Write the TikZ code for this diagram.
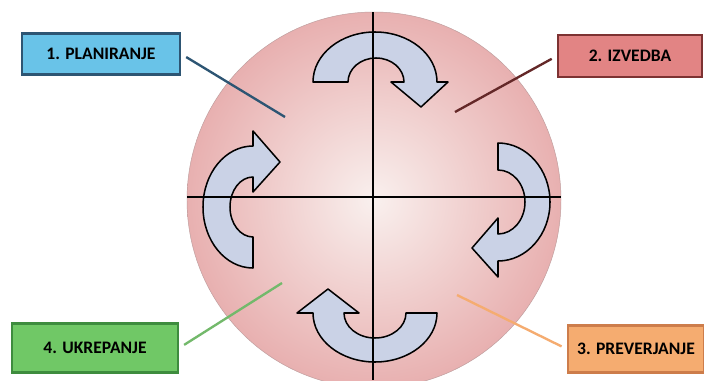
\documentclass[tikz,border=0pt]{standalone}
\usepackage{fontspec}
\setmainfont{Carlito}
\definecolor{discin}{RGB}{249,240,238}
\definecolor{discout}{RGB}{232,176,176}
\definecolor{arrowfill}{RGB}{202,210,230}
\definecolor{planfill}{RGB}{105,195,232}
\definecolor{plandraw}{RGB}{45,85,115}
\definecolor{izvfill}{RGB}{226,132,132}
\definecolor{izvdraw}{RGB}{125,50,50}
\definecolor{prevfill}{RGB}{245,172,112}
\definecolor{prevdraw}{RGB}{205,125,75}
\definecolor{ukrfill}{RGB}{112,200,102}
\definecolor{ukrdraw}{RGB}{62,140,62}
\begin{document}
\begin{tikzpicture}[x=0.03cm, y=0.03cm,
    phase/.style={draw, line width=2pt, inner sep=0pt, font=\fontsize{15}{18}\selectfont\bfseries},
    turn/.style={draw=black, line width=1.3pt, fill=arrowfill, line join=round},
    link/.style={line width=2pt, shorten <=5pt}
  ]
  \useasboundingbox (0,0) rectangle (704,380);
  \fill[white] (0,0) rectangle (704,380);
  \shade[inner color=discin, outer color=discout] (374,180) ellipse [x radius=187, y radius=188];
  \draw[discout!60!gray, line width=0.4pt] (374,180) ellipse [x radius=187, y radius=188];

  \draw[turn] (313,298) arc[start angle=180, end angle=0, x radius=62, y radius=50]
    -- (448,298) -- (421,273) -- (391,298) -- (404,298)
    arc[start angle=0, end angle=180, x radius=28, y radius=24] -- cycle;
  \draw[turn] (498,237) arc[start angle=90, end angle=-90, x radius=52, y radius=59]
    -- (498,103) -- (472,132) -- (498,162) -- (498,146)
    arc[start angle=-90, end angle=90, x radius=27, y radius=32] -- cycle;
  \draw[turn] (437,67) arc[start angle=0, end angle=-180, x radius=62, y radius=49]
    -- (297,67) -- (328,91) -- (359,67) -- (344,67)
    arc[start angle=180, end angle=360, x radius=31, y radius=25] -- cycle;
  \draw[turn] (253,112) arc[start angle=-90, end angle=-270, x radius=50, y radius=61]
    -- (253,249) -- (280,218) -- (253,188) -- (253,203)
    arc[start angle=90, end angle=270, x radius=23, y radius=30] -- cycle;

  \draw[line width=1.4pt] (373,368) -- (373,0);
  \draw[line width=1.4pt] (187,183) -- (561,183);

  \node[phase, fill=planfill, draw=plandraw, minimum width=4.74cm, minimum height=1.23cm] (plan) at (101,326) {1. PLANIRANJE};
  \node[phase, fill=izvfill, draw=izvdraw, minimum width=4.32cm, minimum height=1.26cm] (izv) at (630,324) {2. IZVEDBA};
  \node[phase, fill=prevfill, draw=prevdraw, minimum width=4.08cm, minimum height=1.41cm] (prev) at (636,31) {3. PREVERJANJE};
  \node[phase, fill=ukrfill, draw=ukrdraw, minimum width=4.98cm, minimum height=1.47cm] (ukr) at (95,32) {4. UKREPANJE};

  \coordinate (q1) at (285,263);
  \coordinate (q2) at (455,268);
  \coordinate (q3) at (457,85);
  \coordinate (q4) at (282,97);
  \draw[link, plandraw] (plan.east) -- (q1);
  \draw[link, izvdraw!80!black] (izv.west) -- (q2);
  \draw[link, prevfill] (prev.west) -- (q3);
  \draw[link, ukrfill!80!gray] (ukr.east) -- (q4);
\end{tikzpicture}
\end{document}
